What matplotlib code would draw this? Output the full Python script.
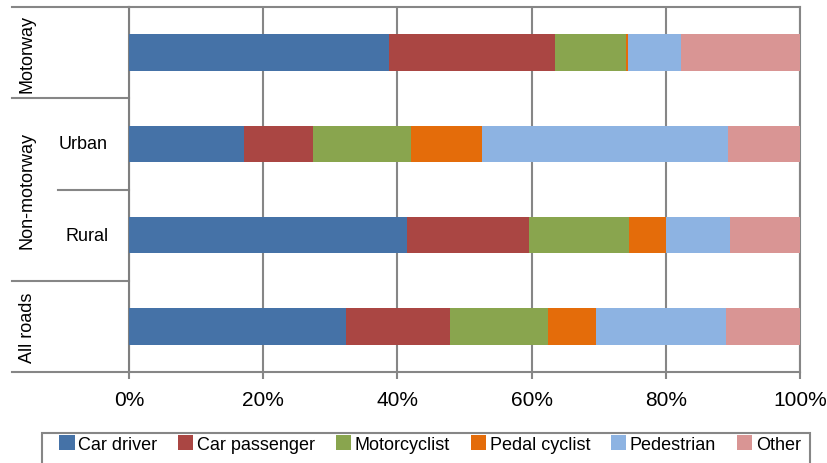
import matplotlib.pyplot as plt
from matplotlib.patches import Rectangle

plt.rcParams['font.family'] = ['Liberation Sans', 'DejaVu Sans']

# rows from bottom to top
rows = ['All roads', 'Rural', 'Urban', 'Motorway']
series = ['Car driver', 'Car passenger', 'Motorcyclist', 'Pedal cyclist', 'Pedestrian', 'Other']
colors = ['#4572A7', '#AA4643', '#89A54E', '#E46C0A', '#8DB3E2', '#D99594']

car_driver = [32.4, 41.4, 17.2, 38.7]
car_passenger = [15.4, 18.2, 10.2, 24.8]
motorcyclist = [14.7, 14.9, 14.7, 10.5]
pedal_cyclist = [7.1, 5.5, 10.5, 0.3]
pedestrian = [19.4, 9.5, 36.6, 8.0]
other = [11.0, 10.5, 10.8, 17.7]
values = [car_driver, car_passenger, motorcyclist, pedal_cyclist, pedestrian, other]

fig = plt.figure(figsize=(8.27, 4.64), dpi=100)
ax = fig.add_axes([129 / 827, 91 / 464, 671 / 827, 365 / 464])

ypos = list(range(len(rows)))
left = [0] * len(rows)
for name, vals, c in zip(series, values, colors):
    ax.barh(ypos, vals, left=left, height=0.4, color=c, label=name, zorder=3)
    left = [l + v for l, v in zip(left, vals)]

ax.set_xlim(0, 100)
ax.set_ylim(-0.5, 3.5)
ax.set_xticks([0, 20, 40, 60, 80, 100])
ax.set_xticklabels(['0%', '20%', '40%', '60%', '80%', '100%'], fontsize=15)
ax.set_yticks([])
ax.grid(axis='x', color='#868686', linewidth=1.5, zorder=0)
ax.tick_params(axis='x', length=5, width=1.5, color='#868686', pad=8)
for s in ax.spines.values():
    s.set_color('#868686')
    s.set_linewidth(1.5)
ax.spines['left'].set_color('#7f7f7f')

# category group separators on the left
tr = ax.get_yaxis_transform()
for y, x0 in [(3.5, -0.174), (2.5, -0.174), (1.5, -0.106), (0.5, -0.174), (-0.5, -0.174)]:
    ax.plot([x0, 0], [y, y], color='#868686', linewidth=1.5, transform=tr, clip_on=False)

ax.text(-0.152, 3.0, 'Motorway', rotation=90, ha='center', va='center', fontsize=13, transform=tr)
ax.text(-0.152, 1.5, 'Non-motorway', rotation=90, ha='center', va='center', fontsize=13, transform=tr)
ax.text(-0.152, 0.0, 'All roads', rotation=90, ha='center', va='center', fontsize=13, transform=tr)
ax.text(-0.068, 2.0, 'Urban', ha='center', va='center', fontsize=13, transform=tr)
ax.text(-0.062, 1.0, 'Rural', ha='center', va='center', fontsize=13, transform=tr)

# legend box
fig.patches.append(Rectangle((42 / 827, -0.02), 768 / 827, 39 / 464, transform=fig.transFigure,
                             fill=False, edgecolor='#868686', linewidth=1.5))
handles, labels = ax.get_legend_handles_labels()
fig.legend(handles, labels, loc='center', bbox_to_anchor=(430 / 827, 19 / 464), ncol=6,
           frameon=False, fontsize=13, handlelength=0.85, handleheight=0.85,
           handletextpad=0.2, columnspacing=1.15)

plt.savefig('out.png', dpi=100)
